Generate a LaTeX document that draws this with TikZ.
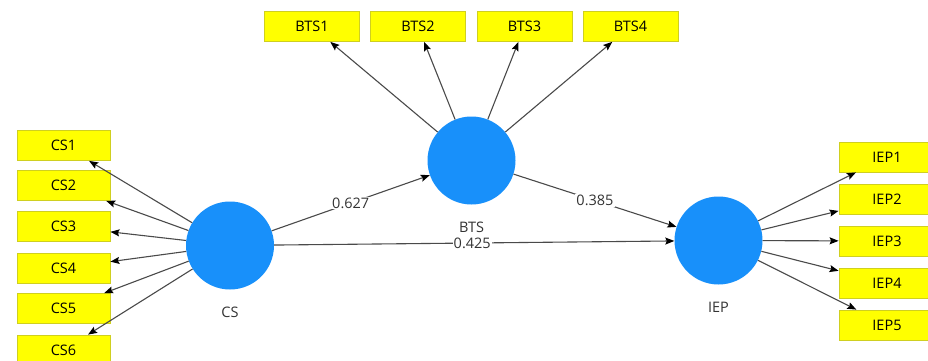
\documentclass[tikz,border=0pt]{standalone}
\usepackage{fontspec}
\setmainfont{Open Sans}
\usetikzlibrary{arrows.meta}
\definecolor{lv}{HTML}{1890FA}
\definecolor{ind}{HTML}{FFFF00}
\definecolor{indb}{HTML}{CFCF20}
\definecolor{ln}{HTML}{4A4A4A}
\tikzset{
  lvnode/.style={circle, fill=lv, minimum size=88pt, inner sep=0pt},
  indbox/.style={rectangle, fill=ind, draw=indb, line width=0.8pt, minimum width=#1, minimum height=30pt, inner sep=0pt, font=\fontsize{14.5}{16}\selectfont},
  indbox/.default=95pt,
  lvlabel/.style={font=\fontsize{14.5}{16}\selectfont, text=black!80},
  link/.style={draw=ln, line width=1.1pt, -{Stealth[length=9pt,width=7pt,inset=1.5pt,color=black]}},
  coef/.style={fill=white, inner sep=1pt, font=\fontsize{14.5}{16}\selectfont, text=black!80}
}
\begin{document}
\begin{tikzpicture}[x=1pt,y=-1pt]
\useasboundingbox (0,0) rectangle (928,361);
\fill[white] (0,0) rectangle (928,361);
% latent variables
\node[lvnode] (cs) at (230,245.5) {};
\node[lvnode] (bts) at (471.5,160.5) {};
\node[lvnode] (iep) at (718.5,240.5) {};
\node[lvlabel] (csl) at (230,312) {CS};
\node[lvlabel] (btsl) at (471.5,227) {BTS};
\node[lvlabel] (iepl) at (718.5,307) {IEP};
% CS indicators
\node[indbox=93pt] (cs1) at (63.5,145.5) {CS1};
\node[indbox=93pt] (cs2) at (63.5,185.5) {CS2};
\node[indbox=93pt] (cs3) at (63.5,226.5) {CS3};
\node[indbox=93pt] (cs4) at (63.5,268) {CS4};
\node[indbox=93pt] (cs5) at (63.5,308.5) {CS5};
\node[indbox=93pt] (cs6) at (63.5,350) {CS6};
% BTS indicators
\node[indbox] (bts1) at (312,26.5) {BTS1};
\node[indbox] (bts2) at (418,26.5) {BTS2};
\node[indbox] (bts3) at (524.5,26.5) {BTS3};
\node[indbox] (bts4) at (630.5,26.5) {BTS4};
% IEP indicators
\node[indbox=96pt] (iep1) at (887,157) {IEP1};
\node[indbox=96pt] (iep2) at (887,199) {IEP2};
\node[indbox=96pt] (iep3) at (887,241) {IEP3};
\node[indbox=96pt] (iep4) at (887,283) {IEP4};
\node[indbox=96pt] (iep5) at (887,325) {IEP5};
% outer loadings
\foreach \i in {1,...,6} \draw[link] (cs) -- (cs\i);
\foreach \i in {1,...,4} \draw[link] (bts) -- (bts\i);
\foreach \i in {1,...,5} \draw[link] (iep) -- (iep\i);
% structural paths
\draw[link] (cs) -- node[coef] {0.627} (bts);
\draw[link] (bts) -- node[coef] {0.385} (iep);
\draw[link] (cs) -- node[coef, pos=0.495] {0.425} (iep);
\end{tikzpicture}
\end{document}
